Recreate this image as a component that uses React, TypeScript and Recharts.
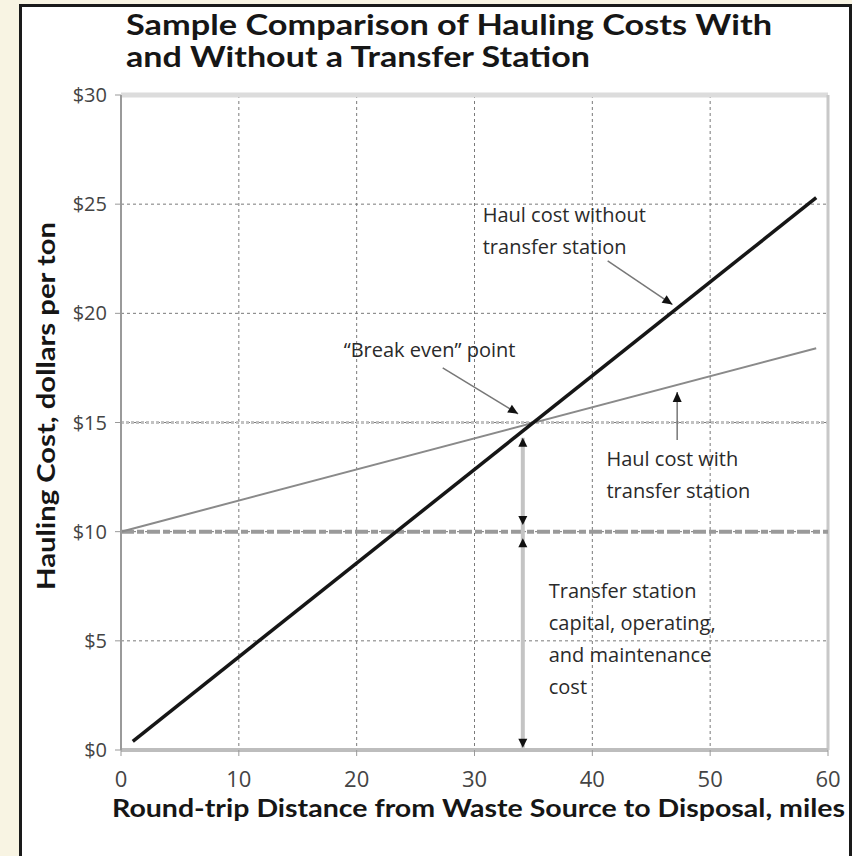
import React from 'react';
import { LineChart, Line, XAxis, YAxis, CartesianGrid, ReferenceLine } from 'recharts';

const xTicks = [0, 10, 20, 30, 40, 50, 60];
const yTicks = [0, 5, 10, 15, 20, 25, 30];

// haul cost in $/ton vs round-trip miles
const withoutTransfer = [
  { miles: 1, cost: 0.4 },
  { miles: 59, cost: 25.3 },
];
const withTransfer = [
  { miles: 0, cost: 10 },
  { miles: 59, cost: 18.4 },
];
const transferCost = 10;
const breakEvenMiles = 34.1;
const breakEvenCost = 14.3;

const titleLines = ['Sample Comparison of Hauling Costs With', 'and Without a Transfer Station'];
const yLabel = 'Hauling Cost, dollars per ton';
const xLabel = 'Round-trip Distance from Waste Source to Disposal, miles';

const noteFont = '"Open Sans", Lato, sans-serif';
const boldFont = 'Lato, "Open Sans", sans-serif';

function head(x: number, y: number, fx: number, fy: number, len = 10, half = 4.5) {
  const a = Math.atan2(y - fy, x - fx);
  const bx = x - len * Math.cos(a);
  const by = y - len * Math.sin(a);
  const px = -Math.sin(a) * half;
  const py = Math.cos(a) * half;
  return <polygon points={`${x},${y} ${bx + px},${by + py} ${bx - px},${by - py}`} fill="#111" />;
}

const Pointer = (p: any) => (
  <g>
    <line x1={p.x1} y1={p.y1} x2={p.x2} y2={p.y2} stroke="#777" strokeWidth={1.5} />
    {head(p.x2, p.y2, p.x1, p.y1)}
  </g>
);

const Measure = (p: any) => (
  <g>
    {head(p.x1, p.y1, p.x2, p.y2, 9, 4.5)}
    {head(p.x2, p.y2, p.x1, p.y1, 9, 4.5)}
  </g>
);

const MeasureBar = (p: any) => (
  <line x1={p.x1} y1={p.y1} x2={p.x2} y2={p.y2} stroke="#c4c4c4" strokeWidth={4} />
);

const note = (lines: string[]) => (p: any) => (
  <text x={p.x1} y={p.y1} fontFamily={noteFont} fontSize={20} fill="#2a2a2a">
    {lines.map((l, i) => (
      <tspan key={i} x={p.x1} dy={i === 0 ? 0 : 32}>
        {l}
      </tspan>
    ))}
  </text>
);

export default function App() {
  return (
    <div style={{ position: 'absolute', left: 0, top: 0, width: 852, height: 856, background: '#f8f4e3', overflow: 'hidden' }}>
      <div
        style={{
          position: 'absolute',
          left: 19,
          top: 4,
          width: 833,
          height: 870,
          boxSizing: 'border-box',
          background: '#fff',
          borderLeft: '3px solid #1a1a1a',
          borderTop: '3px solid #1a1a1a',
          borderRight: '3px solid #1a1a1a',
        }}
      />
      <div style={{ position: 'absolute', left: 0, top: 0 }}>
        <LineChart width={852} height={856} margin={{ top: 95, right: 24, bottom: 76, left: 51 }}>
          <CartesianGrid stroke="#7a7a7a" strokeDasharray="3 3" strokeWidth={1} />
          <ReferenceLine y={15} stroke="#c2c2c2" strokeWidth={3} strokeDasharray="3 2" />
          <ReferenceLine y={30} stroke="#dcdcdc" strokeWidth={5} />
          <ReferenceLine x={60} stroke="#c8c8c8" strokeWidth={3} />
          <ReferenceLine y={transferCost} stroke="#9a9a9a" strokeWidth={4} strokeDasharray="13 3 7 3" />
          <XAxis
            type="number"
            dataKey="miles"
            domain={[0, 60]}
            ticks={xTicks}
            height={30}
            axisLine={{ stroke: '#bdbdbd', strokeWidth: 4 }}
            tickLine={{ stroke: '#999' }}
            tickSize={6}
            tickMargin={15}
            tick={{ fontFamily: noteFont, fontSize: 22, fill: '#444' }}
          />
          <YAxis
            type="number"
            domain={[0, 30]}
            ticks={yTicks}
            width={70}
            axisLine={{ stroke: '#9a9a9a', strokeWidth: 2 }}
            tickLine={{ stroke: '#999' }}
            tickSize={6}
            tickMargin={8}
            tickFormatter={(v) => `$${v}`}
            tick={{ fontFamily: noteFont, fontSize: 20, fill: '#444' }}
          />
          <ReferenceLine
            segment={[{ x: breakEvenMiles, y: breakEvenCost }, { x: breakEvenMiles, y: 0.1 }]}
            shape={MeasureBar}
          />
          <ReferenceLine
            segment={[{ x: breakEvenMiles, y: breakEvenCost }, { x: breakEvenMiles, y: transferCost + 0.3 }]}
            shape={Measure}
          />
          <ReferenceLine
            segment={[{ x: breakEvenMiles, y: transferCost - 0.3 }, { x: breakEvenMiles, y: 0.1 }]}
            shape={Measure}
          />
          <Line
            data={withTransfer}
            dataKey="cost"
            stroke="#8a8a8a"
            strokeWidth={2}
            dot={false}
            isAnimationActive={false}
          />
          <Line
            data={withoutTransfer}
            dataKey="cost"
            stroke="#161616"
            strokeWidth={3.5}
            dot={false}
            isAnimationActive={false}
          />
          <ReferenceLine segment={[{ x: 27.3, y: 17.5 }, { x: 33.7, y: 15.4 }]} shape={Pointer} />
          <ReferenceLine segment={[{ x: 41.3, y: 22.4 }, { x: 46.8, y: 20.4 }]} shape={Pointer} />
          <ReferenceLine segment={[{ x: 47.2, y: 14.2 }, { x: 47.2, y: 16.4 }]} shape={Pointer} />
          <ReferenceLine segment={[{ x: 18.9, y: 18.0 }, { x: 18.9, y: 18.0 }]} shape={note(['\u201cBreak even\u201d point'])} />
          <ReferenceLine
            segment={[{ x: 30.7, y: 24.2 }, { x: 30.7, y: 24.2 }]}
            shape={note(['Haul cost without', 'transfer station'])}
          />
          <ReferenceLine
            segment={[{ x: 41.2, y: 13.0 }, { x: 41.2, y: 13.0 }]}
            shape={note(['Haul cost with', 'transfer station'])}
          />
          <ReferenceLine
            segment={[{ x: 36.3, y: 6.95 }, { x: 36.3, y: 6.95 }]}
            shape={note(['Transfer station', 'capital, operating,', 'and maintenance', 'cost'])}
          />
        </LineChart>
      </div>
      <svg width={852} height={856} style={{ position: 'absolute', left: 0, top: 0, pointerEvents: 'none' }}>
        <g fontFamily={boldFont} fontWeight={700} fill="#161616">
          <text x={126} y={35} fontSize={28} textLength={646} lengthAdjust="spacingAndGlyphs">
            {titleLines[0]}
          </text>
          <text x={126} y={67} fontSize={28} textLength={464} lengthAdjust="spacingAndGlyphs">
            {titleLines[1]}
          </text>
          <text
            transform="translate(55 406) rotate(-90)"
            textAnchor="middle"
            fontSize={24}
            textLength={368}
            lengthAdjust="spacingAndGlyphs"
          >
            {yLabel}
          </text>
          <text x={112} y={817} fontSize={25} textLength={733} lengthAdjust="spacingAndGlyphs">
            {xLabel}
          </text>
        </g>
      </svg>
    </div>
  );
}
